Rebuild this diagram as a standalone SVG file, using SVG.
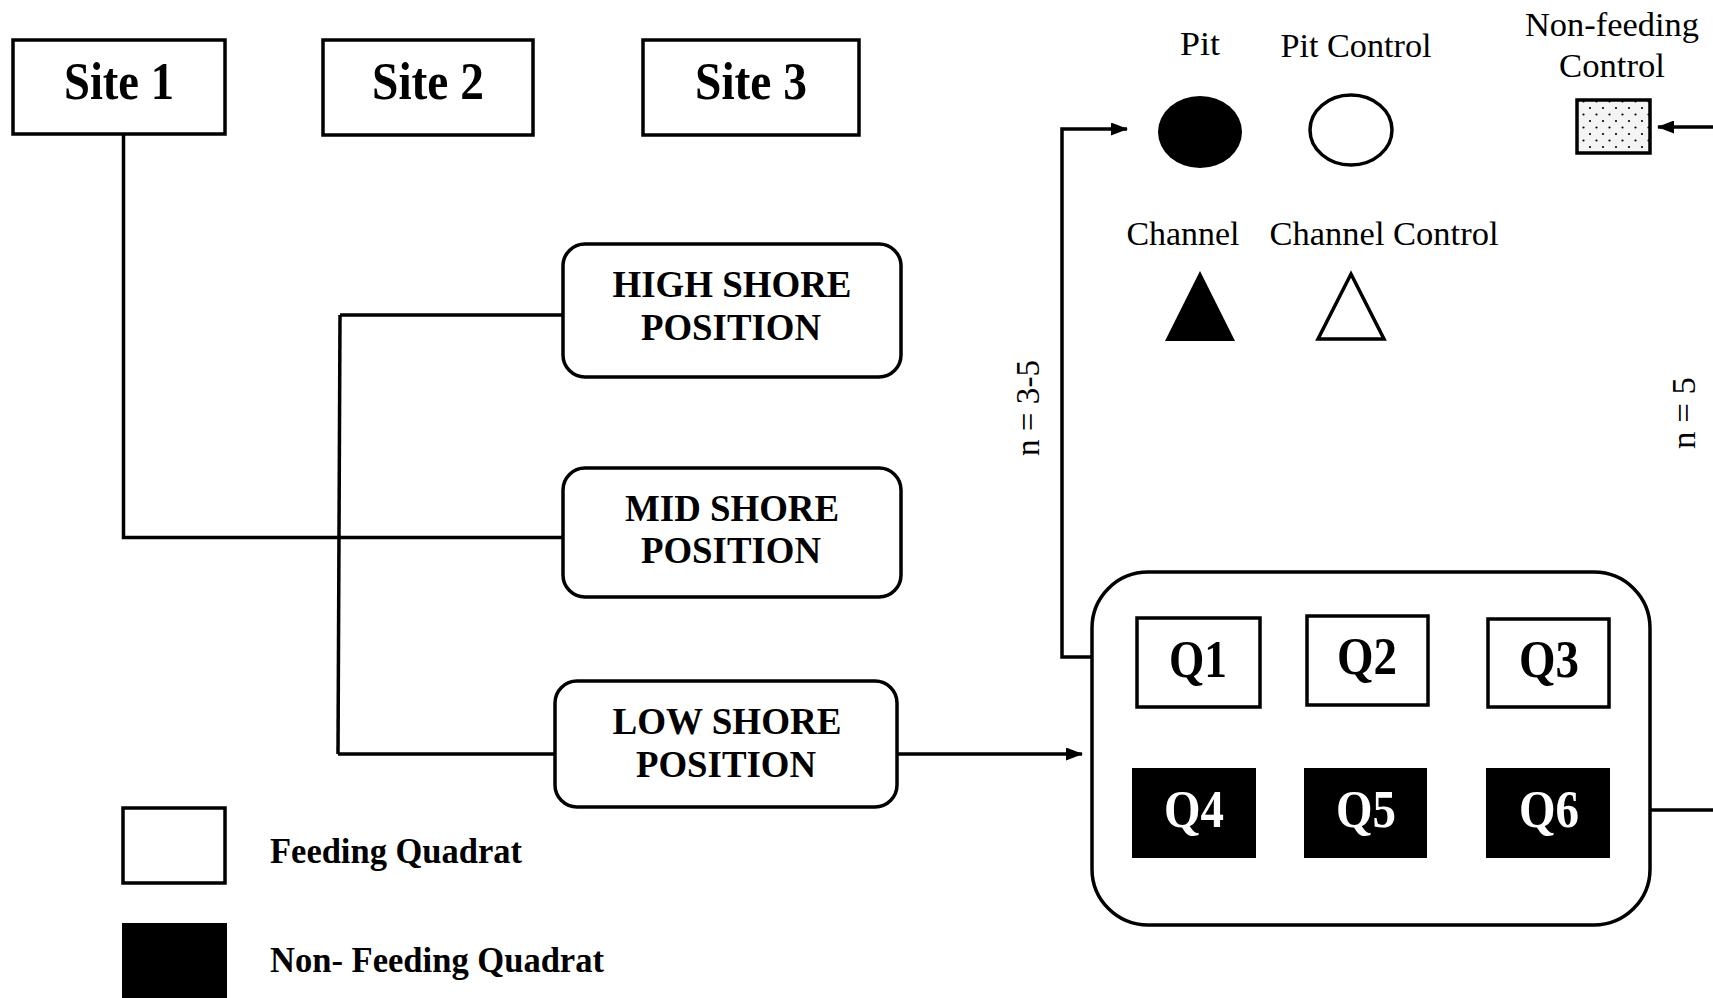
<svg xmlns="http://www.w3.org/2000/svg" width="1713" height="998" viewBox="0 0 1713 998">
<style>
.box{fill:#fff;stroke:#000;stroke-width:3.5}
.ln{fill:none;stroke:#000;stroke-width:3.5}
.site{font-family:"Liberation Serif",serif;font-weight:bold;font-size:52px;text-anchor:middle}
.pos{font-family:"Liberation Serif",serif;font-weight:bold;font-size:38px;text-anchor:middle}
.q{font-family:"Liberation Serif",serif;font-weight:bold;font-size:52px;text-anchor:middle}
.lbl{font-family:"Liberation Serif",serif;font-size:33px;text-anchor:middle}
.leg{font-family:"Liberation Serif",serif;font-weight:bold;font-size:35px}
</style>
<defs>
<marker id="arr2" markerWidth="17" markerHeight="13" refX="16" refY="6.5" orient="auto" markerUnits="userSpaceOnUse"><path d="M0,0 L17,6.5 L0,13 Z" fill="#000"/></marker>
<pattern id="dots" width="13" height="13" patternUnits="userSpaceOnUse"><rect width="13" height="13" fill="#f4f4f4"/><circle cx="4" cy="4" r="1.1" fill="#000"/><circle cx="10.5" cy="10.5" r="1.1" fill="#000"/></pattern>
</defs>

<g id="connectors">
<path class="ln" d="M123.5,134 V537.5 H563"/>
<path class="ln" d="M340,315 L338,754"/>
<path class="ln" d="M340,315 H563"/>
<path class="ln" d="M338,754 H555"/>
<path class="ln" d="M897,754 H1082" marker-end="url(#arr2)"/>
<path class="ln" d="M1137,657 H1062 V129 H1127" marker-end="url(#arr2)"/>
<path class="ln" d="M1610,810 H1713"/>
<path class="ln" d="M1713,127 H1658" marker-end="url(#arr2)"/>
<text class="lbl" transform="translate(1039,408) rotate(-90)" textLength="96" lengthAdjust="spacingAndGlyphs">n = 3-5</text>
<text class="lbl" transform="translate(1695,413) rotate(-90)" textLength="72" lengthAdjust="spacingAndGlyphs">n = 5</text>
</g>

<g id="site1"><rect class="box" x="13" y="40" width="212" height="94"/><text class="site" x="119" y="99" textLength="110" lengthAdjust="spacingAndGlyphs">Site 1</text></g>
<g id="site2"><rect class="box" x="323" y="40" width="210" height="95"/><text class="site" x="428" y="99" textLength="112" lengthAdjust="spacingAndGlyphs">Site 2</text></g>
<g id="site3"><rect class="box" x="643" y="40" width="216" height="95"/><text class="site" x="751" y="99" textLength="112" lengthAdjust="spacingAndGlyphs">Site 3</text></g>

<g id="high"><rect class="box" x="563" y="244" width="338" height="133" rx="22"/><text class="pos" x="732" y="297" textLength="239" lengthAdjust="spacingAndGlyphs">HIGH SHORE</text><text class="pos" x="731" y="340" textLength="180" lengthAdjust="spacingAndGlyphs">POSITION</text></g>
<g id="mid"><rect class="box" x="563" y="468" width="338" height="129" rx="22"/><text class="pos" x="732" y="521" textLength="214" lengthAdjust="spacingAndGlyphs">MID SHORE</text><text class="pos" x="731" y="563" textLength="180" lengthAdjust="spacingAndGlyphs">POSITION</text></g>
<g id="low"><rect class="box" x="555" y="681" width="342" height="126" rx="22"/><text class="pos" x="727" y="734" textLength="229" lengthAdjust="spacingAndGlyphs">LOW SHORE</text><text class="pos" x="726" y="777" textLength="180" lengthAdjust="spacingAndGlyphs">POSITION</text></g>

<g id="quadrats">
<rect class="box" x="1092" y="572" width="558" height="353" rx="56"/>
<g id="q1"><rect class="box" x="1137" y="618" width="123" height="89"/><text class="q" x="1198" y="677" textLength="58" lengthAdjust="spacingAndGlyphs">Q1</text></g>
<g id="q2"><rect class="box" x="1307" y="616" width="121" height="89"/><text class="q" x="1367" y="674" textLength="60" lengthAdjust="spacingAndGlyphs">Q2</text></g>
<g id="q3"><rect class="box" x="1488" y="619" width="121" height="88"/><text class="q" x="1549" y="677" textLength="60" lengthAdjust="spacingAndGlyphs">Q3</text></g>
<g id="q4"><rect x="1132" y="768" width="124" height="90" fill="#000"/><text class="q" x="1194" y="827" fill="#fff" textLength="60" lengthAdjust="spacingAndGlyphs">Q4</text></g>
<g id="q5"><rect x="1304" y="768" width="123" height="90" fill="#000"/><text class="q" x="1366" y="827" fill="#fff" textLength="60" lengthAdjust="spacingAndGlyphs">Q5</text></g>
<g id="q6"><rect x="1486" y="768" width="124" height="90" fill="#000"/><text class="q" x="1549" y="827" fill="#fff" textLength="60" lengthAdjust="spacingAndGlyphs">Q6</text></g>
</g>

<g id="pit"><text class="lbl" x="1200" y="55" textLength="40" lengthAdjust="spacingAndGlyphs">Pit</text><ellipse cx="1200" cy="132" rx="42" ry="36" fill="#000"/></g>
<g id="pitcontrol"><text class="lbl" x="1356" y="57" textLength="151" lengthAdjust="spacingAndGlyphs">Pit Control</text><ellipse cx="1351" cy="130" rx="41" ry="35" fill="#fff" stroke="#000" stroke-width="3.5"/></g>
<g id="nonfeeding"><text class="lbl" x="1612" y="36" textLength="174" lengthAdjust="spacingAndGlyphs">Non-feeding</text><text class="lbl" x="1612" y="77" textLength="106" lengthAdjust="spacingAndGlyphs">Control</text><rect x="1577" y="100" width="73" height="53" fill="url(#dots)" stroke="#000" stroke-width="3.5"/></g>
<g id="channel"><text class="lbl" x="1183" y="245" textLength="113" lengthAdjust="spacingAndGlyphs">Channel</text><polygon points="1200,271 1235,341 1165,341" fill="#000"/></g>
<g id="channelcontrol"><text class="lbl" x="1384" y="245" textLength="229" lengthAdjust="spacingAndGlyphs">Channel Control</text><polygon points="1351,274 1384,339 1318,339" fill="#fff" stroke="#000" stroke-width="3.5"/></g>

<g id="legend">
<rect class="box" x="123" y="808" width="102" height="75"/>
<text class="leg" x="270" y="863" textLength="252" lengthAdjust="spacingAndGlyphs">Feeding Quadrat</text>
<rect x="122" y="923" width="105" height="75" fill="#000"/>
<text class="leg" x="270" y="972" textLength="334" lengthAdjust="spacingAndGlyphs">Non- Feeding Quadrat</text>
</g>
</svg>
